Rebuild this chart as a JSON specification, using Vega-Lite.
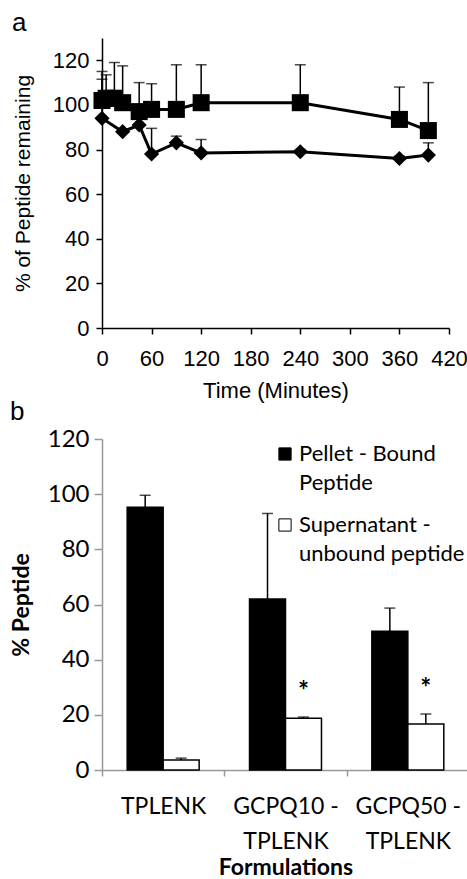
{
  "$schema": "https://vega.github.io/schema/vega-lite/v6.json",
  "padding": {"left": 10, "top": 10, "right": 0, "bottom": 0},
  "background": "white",
  "bounds": "flush",
  "spacing": 111,
  "config": {"view": {"stroke": null}, "style": {"guide-label": {"lineHeight": 29}}},
  "resolve": {"scale": {"color": "independent"}, "legend": {"color": "independent"}},
  "vconcat": [
    {
      "title": {"text": "a", "anchor": "start", "frame": "bounds", "font": "Liberation Sans", "fontSize": 26, "fontWeight": "normal", "color": "black", "offset": -19, "baseline": "alphabetic"},
      "width": 347,
      "height": 290,
      "data": {"values": [
        {"series": "A", "time": 0, "value": 102, "upper": 115},
        {"series": "A", "time": 5, "value": 103, "upper": 113.5},
        {"series": "A", "time": 15, "value": 103, "upper": 119},
        {"series": "A", "time": 25, "value": 101, "upper": 117.5},
        {"series": "A", "time": 45, "value": 97, "upper": 110},
        {"series": "A", "time": 60, "value": 98, "upper": 109.5},
        {"series": "A", "time": 90, "value": 98, "upper": 118},
        {"series": "A", "time": 120, "value": 101, "upper": 118},
        {"series": "A", "time": 240, "value": 101, "upper": 118},
        {"series": "A", "time": 360, "value": 93.5, "upper": 108},
        {"series": "A", "time": 395, "value": 88.5, "upper": 110},
        {"series": "B", "time": 0, "value": 94, "upper": 111.5},
        {"series": "B", "time": 25, "value": 88, "upper": 89},
        {"series": "B", "time": 45, "value": 91, "upper": 96},
        {"series": "B", "time": 60, "value": 78, "upper": 89.5},
        {"series": "B", "time": 90, "value": 83, "upper": 86},
        {"series": "B", "time": 120, "value": 78.5, "upper": 84.5},
        {"series": "B", "time": 240, "value": 79, "upper": 80},
        {"series": "B", "time": 360, "value": 76, "upper": 77},
        {"series": "B", "time": 395, "value": 77.5, "upper": 83}
      ]},
      "encoding": {
        "x": {
          "field": "time", "type": "quantitative",
          "scale": {"domain": [0, 420], "nice": false, "zero": false},
          "axis": {
            "values": [0, 60, 120, 180, 240, 300, 360, 420],
            "title": "Time (Minutes)", "grid": false,
            "domainColor": "black", "domainWidth": 1.5, "tickColor": "black", "tickWidth": 1.5, "tickSize": 6,
            "labelFont": "Liberation Sans", "labelFontSize": 22, "labelColor": "black", "labelPadding": 14,
            "labelFlush": false, "labelOverlap": false,
            "titleFont": "Liberation Sans", "titleFontSize": 22, "titleFontWeight": "normal", "titleColor": "black", "titlePadding": 11
          }
        }
      },
      "layer": [
        {
          "mark": {"type": "rule", "color": "black", "strokeWidth": 1.5},
          "encoding": {
            "y": {
              "field": "value", "type": "quantitative",
              "scale": {"domain": [0, 130], "nice": false},
              "axis": {
                "values": [0, 20, 40, 60, 80, 100, 120],
                "title": "% of Peptide remaining", "grid": false,
                "domainColor": "black", "domainWidth": 1.5, "tickColor": "black", "tickWidth": 1.5, "tickSize": 6,
                "labelFont": "Liberation Sans", "labelFontSize": 22, "labelColor": "black", "labelPadding": 7,
                "titleFont": "Liberation Sans", "titleFontSize": 21, "titleFontWeight": "normal", "titleColor": "black", "titleX": -69
              }
            },
            "y2": {"field": "upper"}
          }
        },
        {
          "mark": {"type": "tick", "orient": "horizontal", "color": "black", "size": 11, "thickness": 1.5},
          "encoding": {"y": {"field": "upper", "type": "quantitative"}}
        },
        {
          "mark": {"type": "line", "color": "black", "strokeWidth": 3},
          "encoding": {
            "y": {"field": "value", "type": "quantitative"},
            "detail": {"field": "series", "type": "nominal"}
          }
        },
        {
          "transform": [{"filter": "datum.series === 'A'"}],
          "mark": {"type": "point", "shape": "square", "filled": true, "opacity": 1, "color": "black", "size": 290},
          "encoding": {"y": {"field": "value", "type": "quantitative"}}
        },
        {
          "transform": [{"filter": "datum.series === 'B'"}],
          "mark": {"type": "point", "shape": "diamond", "filled": true, "opacity": 1, "color": "black", "size": 230},
          "encoding": {"y": {"field": "value", "type": "quantitative"}}
        }
      ]
    },
    {
      "title": {"text": "b", "anchor": "start", "frame": "bounds", "font": "Liberation Sans", "fontSize": 26, "fontWeight": "normal", "color": "black", "offset": -19, "baseline": "alphabetic"},
      "width": 367,
      "height": 331,
      "data": {"values": [
        {"formulation": "TPLENK", "fraction": "Pellet - Bound Peptide", "value": 95.3, "upper": 99.6, "sig": false},
        {"formulation": "TPLENK", "fraction": "Supernatant - unbound peptide", "value": 3.6, "upper": 4.3, "sig": false},
        {"formulation": "GCPQ10 - TPLENK", "fraction": "Pellet - Bound Peptide", "value": 62, "upper": 93, "sig": false},
        {"formulation": "GCPQ10 - TPLENK", "fraction": "Supernatant - unbound peptide", "value": 18.8, "upper": 19.2, "sig": true},
        {"formulation": "GCPQ50 - TPLENK", "fraction": "Pellet - Bound Peptide", "value": 50.3, "upper": 58.7, "sig": false},
        {"formulation": "GCPQ50 - TPLENK", "fraction": "Supernatant - unbound peptide", "value": 16.7, "upper": 20.3, "sig": true}
      ]},
      "encoding": {
        "x": {
          "field": "formulation", "type": "nominal",
          "sort": ["TPLENK", "GCPQ10 - TPLENK", "GCPQ50 - TPLENK"],
          "scale": {"paddingInner": 0, "paddingOuter": 0},
          "axis": {
            "title": "Formulations", "labelAngle": 0, "grid": false,
            "domainColor": "#999999", "domainWidth": 1.5, "tickColor": "#999999", "tickWidth": 1.5, "tickSize": 6,
            "tickBand": "extent",
            "labelExpr": "indexof(datum.label, ' - ') > 0 ? [replace(datum.label, ' - TPLENK', ' -'), 'TPLENK'] : datum.label",
            "labelFont": "Lato", "labelFontSize": 23, "labelLineHeight": 35, "labelColor": "black", "labelPadding": 19,
            "titleFont": "Lato", "titleFontSize": 23, "titleFontWeight": "bold", "titleColor": "black", "titlePadding": 3
          }
        },
        "xOffset": {
          "field": "fraction", "type": "nominal",
          "sort": ["Pellet - Bound Peptide", "Supernatant - unbound peptide"],
          "scale": {"paddingInner": 0, "paddingOuter": 0.7}
        }
      },
      "layer": [
        {
          "mark": {"type": "bar", "stroke": "black", "strokeWidth": 1.5},
          "encoding": {
            "y": {
              "field": "value", "type": "quantitative",
              "scale": {"domain": [0, 120], "nice": false},
              "axis": {
                "values": [0, 20, 40, 60, 80, 100, 120],
                "title": "% Peptide", "grid": false,
                "domainColor": "#999999", "domainWidth": 1.5, "tickColor": "#999999", "tickWidth": 1.5, "tickSize": 8,
                "labelFont": "Lato", "labelFontSize": 24, "labelColor": "black", "labelPadding": 5,
                "titleFont": "Lato", "titleFontSize": 23, "titleFontWeight": "bold", "titleColor": "black", "titleX": -69
              }
            },
            "color": {
              "field": "fraction", "type": "nominal",
              "sort": ["Pellet - Bound Peptide", "Supernatant - unbound peptide"],
              "scale": {"range": ["black", "white"]},
              "legend": {
                "orient": "none", "legendX": 172, "legendY": 4, "title": null,
                "symbolType": "square", "symbolSize": 150, "symbolStrokeColor": "black", "symbolStrokeWidth": 1,
                "labelFont": "Lato", "labelFontSize": 22, "labelColor": "black",
                "labelBaseline": "middle", "labelOffset": 3, "rowPadding": 20, "labelLimit": 300,
                "labelExpr": "datum.label === 'Pellet - Bound Peptide' ? ['Pellet - Bound', 'Peptide'] : ['Supernatant -', 'unbound peptide']"
              }
            }
          }
        },
        {
          "mark": {"type": "rule", "color": "black", "strokeWidth": 1.5},
          "encoding": {
            "y": {"field": "value", "type": "quantitative"},
            "y2": {"field": "upper"}
          }
        },
        {
          "mark": {"type": "tick", "color": "black", "size": 11, "thickness": 1.5},
          "encoding": {"y": {"field": "upper", "type": "quantitative"}}
        },
        {
          "transform": [{"filter": "datum.sig"}],
          "mark": {"type": "text", "text": "*", "font": "Lato", "fontSize": 26, "fontWeight": "bold", "color": "black", "dy": -17, "baseline": "alphabetic"},
          "encoding": {"y": {"field": "upper", "type": "quantitative"}}
        }
      ]
    }
  ]
}
